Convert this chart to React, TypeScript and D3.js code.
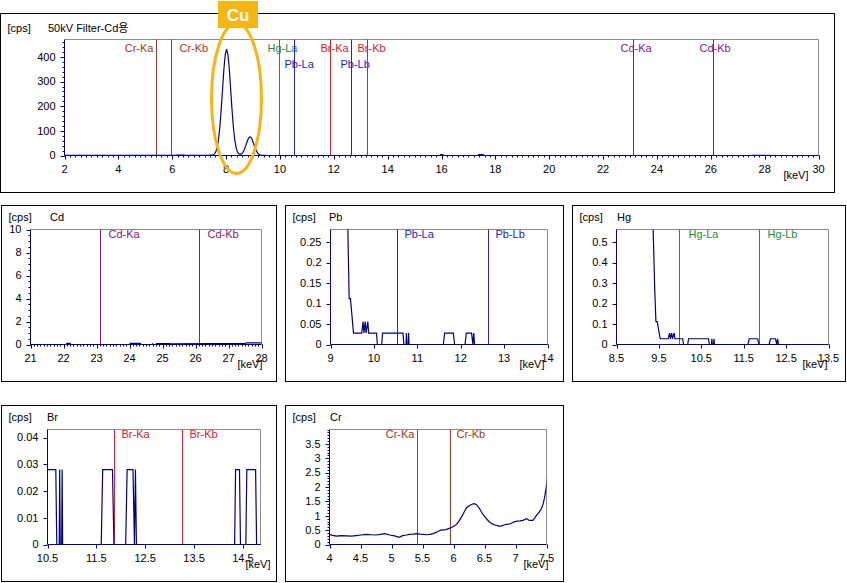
import React from 'react';
import * as d3 from 'd3';

const W = 847;
const H = 583;
const FONT = '"Liberation Sans", Arial, "Noto Sans CJK KR", sans-serif';

type Pt = [number, number];

// ---- spectrum data, [keV, cps] ----
const crRegion: Pt[] = [
  [2.0, 0.5], [2.5, 0.45], [3.0, 0.4], [3.5, 0.38], [4.0, 0.35], [4.05, 0.32], [4.11, 0.29], [4.19, 0.31],
  [4.27, 0.3], [4.35, 0.29], [4.43, 0.31], [4.51, 0.33], [4.59, 0.35], [4.67, 0.34], [4.75, 0.33],
  [4.82, 0.35], [4.89, 0.38], [4.97, 0.33], [5.05, 0.3], [5.12, 0.25], [5.18, 0.31], [5.24, 0.33],
  [5.29, 0.35], [5.35, 0.36], [5.4, 0.38], [5.46, 0.36], [5.51, 0.35], [5.57, 0.34], [5.62, 0.35],
  [5.67, 0.38], [5.72, 0.42], [5.76, 0.47], [5.8, 0.5], [5.84, 0.51], [5.88, 0.52], [5.93, 0.56],
  [5.97, 0.59], [6.01, 0.64], [6.05, 0.7], [6.09, 0.82], [6.13, 0.96], [6.17, 1.12], [6.21, 1.28],
  [6.26, 1.36], [6.3, 1.4], [6.33, 1.42], [6.36, 1.4], [6.38, 1.36], [6.42, 1.25], [6.45, 1.13],
  [6.49, 1.0], [6.53, 0.9], [6.57, 0.8], [6.61, 0.73], [6.65, 0.69], [6.69, 0.67], [6.73, 0.64],
  [6.77, 0.64], [6.81, 0.68], [6.85, 0.7], [6.89, 0.71], [6.93, 0.73], [6.97, 0.78], [7.02, 0.81],
  [7.07, 0.82], [7.12, 0.84], [7.15, 0.87], [7.18, 0.9], [7.21, 0.85], [7.23, 0.84], [7.28, 0.84],
  [7.31, 0.92], [7.34, 1.02], [7.38, 1.12], [7.42, 1.25], [7.45, 1.45], [7.47, 1.65], [7.5, 2.06],
];

const cuRegion: Pt[] = [
  [7.52, 2.4], [7.57, 6.3], [7.62, 15], [7.67, 34], [7.72, 66], [7.77, 118], [7.82, 188], [7.87, 270],
  [7.92, 351], [7.97, 410], [8.02, 432], [8.07, 410], [8.12, 351], [8.17, 270], [8.22, 188], [8.27, 118],
  [8.32, 66], [8.37, 34], [8.42, 15], [8.47, 7.1], [8.52, 4.7], [8.57, 6.4], [8.62, 11.8], [8.67, 22],
  [8.72, 36], [8.77, 53], [8.82, 67], [8.87, 75], [8.92, 74], [8.97, 65], [9.02, 49], [9.07, 33],
  [9.12, 20], [9.17, 10], [9.22, 4.7], [9.27, 1.9], [9.32, 1.0],
];

const lRegion: Pt[] = [
  [9.36, 0.6], [9.4, 0.28], [9.43, 0.112], [9.46, 0.112], [9.53, 0.028], [9.72, 0.028], [9.75, 0.056],
  [9.77, 0.028], [9.8, 0.056], [9.82, 0.028], [9.86, 0.056], [9.88, 0.028], [10.06, 0.028], [10.08, 0],
  [10.18, 0], [10.2, 0.028], [10.67, 0.028], [10.69, 0], [10.74, 0], [10.75, 0.028], [10.76, 0],
  [10.79, 0], [10.8, 0.028], [10.81, 0], [11.6, 0], [11.63, 0.028], [11.83, 0.028], [11.86, 0],
  [12.1, 0], [12.13, 0.028], [12.25, 0.028], [12.28, 0], [12.3, 0.028], [12.32, 0], [14.33, 0],
  [14.35, 0.028], [14.43, 0.028], [14.45, 0], [14.56, 0], [14.58, 0.028], [14.76, 0.028], [14.78, 0],
  [15.0, 0],
];

const midRegion: Pt[] = [
  [15.95, 0], [15.97, 4], [16.05, 4], [16.07, 0], [17.35, 0], [17.37, 4], [17.55, 4], [17.57, 0], [20.9, 0],
];

const cdRegion: Pt[] = [
  [21.0, 0], [22.08, 0], [22.1, 0.1], [22.2, 0.1], [22.22, 0], [24.0, 0], [24.03, 0.1], [24.33, 0.1],
  [24.35, 0], [24.68, 0], [24.7, 0.06], [24.72, 0], [24.8, 0], [24.82, 0.08], [25.2, 0.08], [25.25, 0.06],
  [26.5, 0.07], [27.5, 0.07], [27.55, 0.15], [28.0, 0.15], [28.5, 0.1], [30.0, 0.05],
];

const spectrum: Pt[] = [...crRegion, ...cuRegion, ...lRegion, ...midRegion, ...cdRegion];

// ---- element lines ----
const lineNames = ['Cr-Ka', 'Cr-Kb', 'Hg-La', 'Hg-Lb', 'Pb-La', 'Br-Ka', 'Pb-Lb', 'Br-Kb', 'Cd-Ka', 'Cd-Kb'];
const lineEnergies = [5.41, 5.95, 9.97, 11.86, 10.53, 11.87, 12.63, 13.25, 23.12, 26.1];
const elementColors: Record<string, string> = {
  Cr: '#9A3A22',
  Hg: '#2A8A3A',
  Pb: '#2222C8',
  Br: '#D8202E',
  Cd: '#7E1A80',
};

// ---- ticks ----
const mainXTicks = [2, 4, 6, 8, 10, 12, 14, 16, 18, 20, 22, 24, 26, 28, 30];
const mainYTicks = [0, 100, 200, 300, 400];
const cdXTicks = [21, 22, 23, 24, 25, 26, 27, 28];
const cdYTicks = [0, 2, 4, 6, 8, 10];
const pbXTicks = [9, 10, 11, 12, 13, 14];
const pbYTicks = [0, 0.05, 0.1, 0.15, 0.2, 0.25];
const hgXTicks = [8.5, 9.5, 10.5, 11.5, 12.5, 13.5];
const hgYTicks = [0, 0.1, 0.2, 0.3, 0.4, 0.5];
const brXTicks = [10.5, 11.5, 12.5, 13.5, 14.5];
const brYTicks = [0, 0.01, 0.02, 0.03, 0.04];
const crXTicks = [4, 4.5, 5, 5.5, 6, 6.5, 7, 7.5];
const crYTicks = [0, 0.5, 1, 1.5, 2, 2.5, 3, 3.5];

type LabelCfg = { dx: number; row: number; anchor: 'start' | 'end' };

interface PanelCfg {
  id: string;
  title: string;
  box: [number, number, number, number];
  plot: [number, number, number, number]; // left, top, right, bottom
  xDomain: [number, number];
  yDomain: [number, number];
  xTicks: number[];
  yTicks: number[];
  xMinor: number;
  yMinor: number;
  lines: string[];
  labels: Record<string, LabelCfg>;
  labelRows: number[];
  textY: number;
  titleX: number;
  keVdx: number;
}

const S = (dx: number, row = 0): LabelCfg => ({ dx, row, anchor: 'start' });
const E = (dx: number, row = 0): LabelCfg => ({ dx, row, anchor: 'end' });

const panels: PanelCfg[] = [
  {
    id: 'main', title: '50kV Filter-Cd용', box: [0.5, 13.5, 834, 179], plot: [64.5, 39.5, 818.5, 155.5],
    xDomain: [2, 30], yDomain: [0, 471], xTicks: mainXTicks, yTicks: mainYTicks, xMinor: 0.2, yMinor: 20,
    lines: ['Cr-Ka', 'Cr-Kb', 'Hg-La', 'Pb-La', 'Br-Ka', 'Pb-Lb', 'Br-Kb', 'Cd-Ka', 'Cd-Kb'],
    labels: {
      'Cr-Ka': E(-3), 'Cr-Kb': S(8), 'Hg-La': S(-12), 'Pb-La': S(-10, 1), 'Br-Ka': S(-10),
      'Pb-Lb': S(-11, 1), 'Br-Kb': S(-10), 'Cd-Ka': S(-13), 'Cd-Kb': S(-14),
    },
    labelRows: [52, 68], textY: 32, titleX: 48, keVdx: -10,
  },
  {
    id: 'cd', title: 'Cd', box: [1.5, 205.5, 275, 176], plot: [30.5, 229.5, 261.5, 344.5],
    xDomain: [21, 28], yDomain: [0, 10], xTicks: cdXTicks, yTicks: cdYTicks, xMinor: 0.1, yMinor: 0.5,
    lines: ['Cd-Ka', 'Cd-Kb'], labels: { 'Cd-Ka': S(8), 'Cd-Kb': S(8) },
    labelRows: [238], textY: 221, titleX: 50, keVdx: 1,
  },
  {
    id: 'pb', title: 'Pb', box: [285.5, 205.5, 278, 176], plot: [330.5, 229.5, 547.5, 344.5],
    xDomain: [9, 14], yDomain: [0, 0.281], xTicks: pbXTicks, yTicks: pbYTicks, xMinor: 0, yMinor: 0,
    lines: ['Pb-La', 'Pb-Lb'], labels: { 'Pb-La': S(7), 'Pb-Lb': S(7) },
    labelRows: [238], textY: 221, titleX: 329, keVdx: -3,
  },
  {
    id: 'hg', title: 'Hg', box: [572.5, 205.5, 273, 176], plot: [616.5, 229.5, 828.5, 344.5],
    xDomain: [8.5, 13.5], yDomain: [0, 0.562], xTicks: hgXTicks, yTicks: hgYTicks, xMinor: 0, yMinor: 0,
    lines: ['Hg-La', 'Hg-Lb'], labels: { 'Hg-La': S(9), 'Hg-Lb': S(8) },
    labelRows: [238], textY: 221, titleX: 617, keVdx: -1,
  },
  {
    id: 'br', title: 'Br', box: [1.5, 405.5, 275, 176], plot: [47.5, 429.5, 260.5, 544.5],
    xDomain: [10.5, 14.86], yDomain: [0, 0.043], xTicks: brXTicks, yTicks: brYTicks, xMinor: 0, yMinor: 0,
    lines: ['Br-Ka', 'Br-Kb'], labels: { 'Br-Ka': S(7), 'Br-Kb': S(7) },
    labelRows: [438], textY: 421, titleX: 47, keVdx: 10,
  },
  {
    id: 'cr', title: 'Cr', box: [285.5, 405.5, 278, 176], plot: [329.5, 429.5, 546.5, 544.5],
    xDomain: [4, 7.5], yDomain: [0, 4], xTicks: crXTicks, yTicks: crYTicks, xMinor: 0, yMinor: 0.1,
    lines: ['Cr-Ka', 'Cr-Kb'], labels: { 'Cr-Ka': E(-3), 'Cr-Kb': S(6) },
    labelRows: [438], textY: 421, titleX: 330, keVdx: 2,
  },
];

const AXIS = '#000080';
const FRAME = '#8c8c8c';
const CU = '#F5B512';

function fmt(v: number): string {
  return String(Math.round(v * 1000) / 1000);
}

function Panel({ p }: { p: PanelCfg }) {
  const [l, t, r, b] = p.plot;
  const x = d3.scaleLinear().domain(p.xDomain).range([l, r]);
  const y = d3.scaleLinear().domain(p.yDomain).range([b, t]);
  const line = d3
    .line<Pt>()
    .x((d) => x(d[0]))
    .y((d) => y(d[1]));
  const visible = spectrum.filter(
    (d, i) =>
      (d[0] >= p.xDomain[0] && d[0] <= p.xDomain[1]) ||
      (spectrum[i + 1] && spectrum[i + 1][0] >= p.xDomain[0] && d[0] < p.xDomain[0]) ||
      (spectrum[i - 1] && spectrum[i - 1][0] <= p.xDomain[1] && d[0] > p.xDomain[1])
  );
  const clipId = `clip-${p.id}`;
  const xMinor = p.xMinor > 0 ? d3.range(p.xDomain[0], p.xDomain[1] + 1e-9, p.xMinor) : [];
  const yMinor = p.yMinor > 0 ? d3.range(p.yDomain[0], p.yDomain[1] + 1e-9, p.yMinor) : [];
  const lastX = p.xTicks[p.xTicks.length - 1];
  return (
    <g>
      <rect x={p.box[0]} y={p.box[1]} width={p.box[2]} height={p.box[3]} fill="#fff" stroke="#000" strokeWidth={1} />
      <defs>
        <clipPath id={clipId}>
          <rect x={l} y={t} width={r - l} height={b - t + 1} />
        </clipPath>
      </defs>
      {/* frame */}
      <path d={`M${l},${t}H${r}V${b}`} fill="none" stroke={FRAME} strokeWidth={1} />
      {/* element lines */}
      {p.lines.map((name) => {
        const i = lineNames.indexOf(name);
        const e = lineEnergies[i];
        const col = elementColors[name.split('-')[0]];
        const px = Math.round(x(e)) + 0.5;
        const lab = p.labels[name];
        return (
          <g key={name}>
            <line x1={px} x2={px} y1={t} y2={b} stroke={col} strokeWidth={1} />
            <text
              x={px + lab.dx}
              y={p.labelRows[lab.row]}
              textAnchor={lab.anchor}
              fill={col}
              fontSize={11}
              fontFamily={FONT}
            >
              {name}
            </text>
          </g>
        );
      })}
      {/* spectrum */}
      <path d={line(visible) || ''} fill="none" stroke={AXIS} strokeWidth={1.2} clipPath={`url(#${clipId})`} />
      {/* axes */}
      <line x1={l} x2={r} y1={b} y2={b} stroke={AXIS} strokeWidth={1} />
      <line x1={l} x2={l} y1={t} y2={b} stroke={AXIS} strokeWidth={1} />
      {xMinor.map((v, i) => (
        <line key={`xm${i}`} x1={Math.round(x(v)) + 0.5} x2={Math.round(x(v)) + 0.5} y1={b} y2={b + 2} stroke={AXIS} />
      ))}
      {yMinor.map((v, i) => (
        <line key={`ym${i}`} x1={l - 2} x2={l} y1={Math.round(y(v)) + 0.5} y2={Math.round(y(v)) + 0.5} stroke={AXIS} />
      ))}
      {p.xTicks.map((v) => (
        <g key={`xt${v}`}>
          <line x1={Math.round(x(v)) + 0.5} x2={Math.round(x(v)) + 0.5} y1={b} y2={b + 4} stroke={AXIS} />
          <text
            x={x(v)}
            y={b + 17}
            textAnchor="middle"
            fontSize={11}
            fontFamily={FONT}
            fill="#000"
          >
            {fmt(v)}
          </text>
        </g>
      ))}
      {p.yTicks.map((v) => (
        <g key={`yt${v}`}>
          <line x1={l - 4} x2={l} y1={Math.round(y(v)) + 0.5} y2={Math.round(y(v)) + 0.5} stroke={AXIS} />
          <text x={l - 9} y={y(v)} dy="0.35em" textAnchor="end" fontSize={11} fontFamily={FONT} fill="#000">
            {fmt(v)}
          </text>
        </g>
      ))}
      <text x={r + p.keVdx} y={b + 23.5} textAnchor="end" fontSize={11} fontFamily={FONT} fill="#000">
        [keV]
      </text>
      <text x={p.box[0] + 7} y={p.textY} fontSize={11} fontFamily={FONT} fill="#000">
        [cps]
      </text>
      <text x={p.titleX} y={p.textY} fontSize={11} fontFamily={FONT} fill="#000">
        {p.title}
      </text>
      {lastX === undefined ? null : null}
    </g>
  );
}

export default function App() {
  return (
    <svg
      width={W}
      height={H}
      viewBox={`0 0 ${W} ${H}`}
      style={{ position: 'absolute', left: 0, top: 0, background: '#fff' }}
    >
      <rect x={0} y={0} width={W} height={H} fill="#fff" />
      {panels.map((p) => (
        <Panel key={p.id} p={p} />
      ))}
      {/* Cu highlight */}
      <ellipse cx={236.5} cy={98.5} rx={25} ry={75} fill="none" stroke={CU} strokeWidth={3} />
      <rect x={218} y={1} width={40} height={27} fill={CU} />
      <text
        x={238}
        y={21}
        textAnchor="middle"
        fill="#fff"
        fontSize={17}
        fontWeight="bold"
        fontFamily='"Liberation Sans Narrow", "Liberation Sans", Arial, sans-serif'
      >
        Cu
      </text>
    </svg>
  );
}
